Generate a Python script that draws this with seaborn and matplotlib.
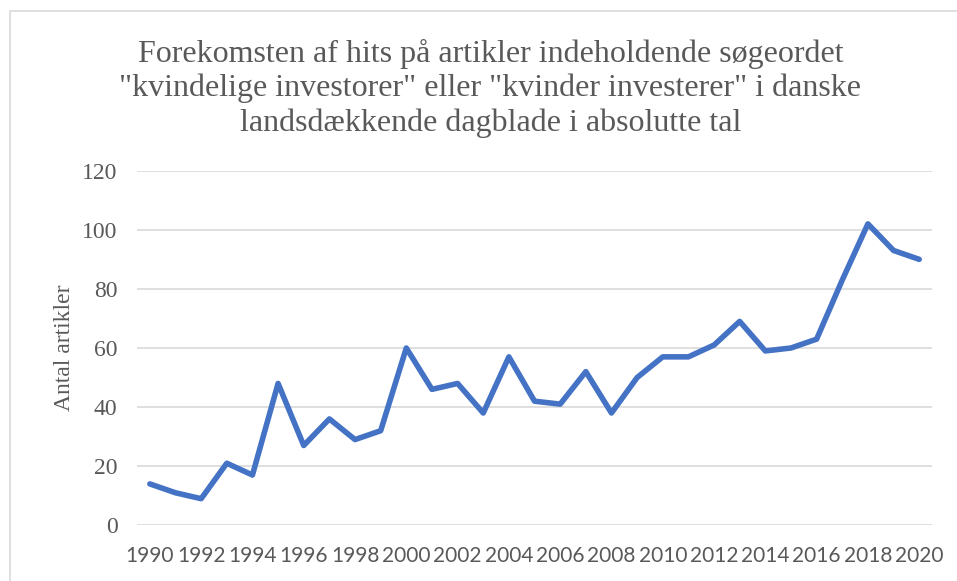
import matplotlib.pyplot as plt
import seaborn as sns
import pandas as pd
from matplotlib.patches import Rectangle

# data
years = list(range(1990, 2021))
antal = [14, 11, 9, 21, 17, 48, 27, 36, 29, 32,
         60, 46, 48, 38, 57, 42, 41, 52, 38, 50,
         57, 57, 61, 69, 59, 60, 63, 83, 102, 93, 90]
yticks = [0, 20, 40, 60, 80, 100, 120]
title = ('Forekomsten af hits på artikler indeholdende søgeordet\n'
         '"kvindelige investorer" eller "kvinder investerer" i danske\n'
         'landsdækkende dagblade i absolutte tal')

df = pd.DataFrame({'year': years, 'antal': antal})

sns.set_style('white')
grey = '#595959'

fig = plt.figure(figsize=(9.57, 5.81), dpi=100)
ax = fig.add_axes([0.1432, 0.0959, 0.8307, 0.6103])

sns.lineplot(data=df, x='year', y='antal', ax=ax, color='#4472C4', linewidth=4)

ax.set_xlim(1989.5, 2020.5)
ax.set_ylim(0, 120)
ax.set_yticks(yticks)
ax.set_xticks(years[::2])
ax.grid(axis='y', color='#d9d9d9', linewidth=1.2)
ax.grid(axis='x', visible=False)
for s in ax.spines.values():
    s.set_visible(False)
ax.tick_params(axis='both', length=0, colors=grey)
ax.tick_params(axis='y', pad=14, labelsize=17)
ax.tick_params(axis='x', pad=15, labelsize=15)
for lab in ax.get_yticklabels():
    lab.set_fontfamily('Liberation Serif')
for lab in ax.get_xticklabels():
    lab.set_fontfamily('Lato')

ax.set_xlabel('')
ax.set_ylabel('Antal artikler', fontsize=17, color=grey,
              family='Liberation Serif', labelpad=5)

fig.text(0.5125, 0.848, title, ha='center', va='center', fontsize=23,
         color=grey, family='Liberation Serif', linespacing=1.22)

# kantlinje om diagrammet
fig.patches.append(Rectangle((10 / 957, -0.1), 1.2, 1 - 11 / 581 + 0.1,
                             transform=fig.transFigure, fill=False,
                             edgecolor='#d9d9d9', linewidth=1.2))

fig.savefig('out.png', dpi=100)
